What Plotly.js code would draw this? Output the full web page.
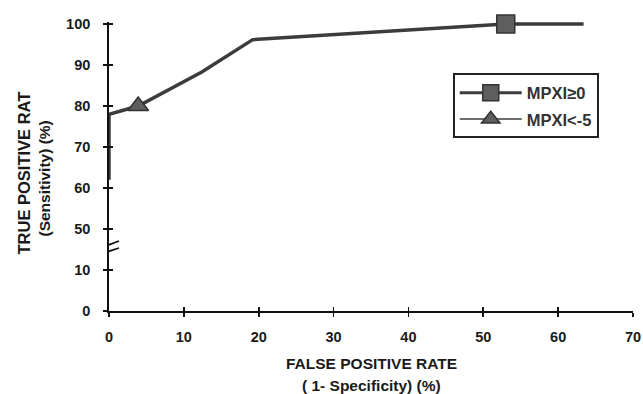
<!DOCTYPE html>
<html>
<head>
<meta charset="utf-8">
<script src="https://cdn.plot.ly/plotly-3.0.1.min.js"></script>
<style>html,body{margin:0;padding:0;background:#fff;}#chart{width:643px;height:394px;}</style>
</head>
<body>
<div id="chart"></div>
<script>
// ROC curve (x: false positive rate %, y: true positive rate %)
var curveX = [0, 0, 3.9, 12.4, 19.2, 53, 63.4];
var curveY = [62, 78, 80, 88.3, 96.2, 100, 100];
// labelled cut-off points
var squareX = [53];
var squareY = [100];
var triangleX = [3.9];
var triangleY = [80];
var seriesNames = ['MPXI\u22650', 'MPXI<-5'];
var xTicks = [0, 10, 20, 30, 40, 50, 60, 70];
var yTicks = [0, 10, 50, 60, 70, 80, 90, 100];

// broken y-axis: 10..50 gap collapsed to one 10-unit step
function brk(v) { return v <= 10 ? v : v - 30; }
var yTickPos = yTicks.map(brk);
var yTickText = yTicks.map(String);

var FONT = 'Liberation Sans, Arial, sans-serif';
var lineCol = '#3c3c3c';
var fillCol = '#5e5e5e';
var yRange = [0, 70.5];

var traces = [
  { x: [xTicks[0]], y: [yTickPos[0]], xaxis: 'x2', yaxis: 'y2', showlegend: false, hoverinfo: 'skip',
    mode: 'markers', marker: { opacity: 0, size: 1 } },
  { x: curveX, y: curveY.map(brk), mode: 'lines', showlegend: false, hoverinfo: 'skip', cliponaxis: false,
    line: { color: lineCol, width: 3.5 } },
  { x: squareX, y: squareY.map(brk), mode: 'lines+markers', name: seriesNames[0], legendgroup: 'a',
    cliponaxis: false,
    line: { color: lineCol, width: 3 },
    marker: { symbol: 'square', size: 18, color: fillCol, line: { color: '#333', width: 1.5 } } },
  { x: triangleX, y: triangleY.map(brk), mode: 'lines+markers', name: seriesNames[1], legendgroup: 'b',
    cliponaxis: false,
    line: { color: lineCol, width: 1.5 },
    marker: { symbol: 'triangle-up', size: 18, color: fillCol, line: { color: '#333', width: 1.5 } } }
];

var yBreak = 15.37;
var layout = {
  width: 643, height: 394,
  margin: { l: 109, r: 10, t: 22, b: 83 },
  paper_bgcolor: '#fff', plot_bgcolor: '#fff',
  font: { family: FONT, color: '#1a1a1a' },
  showlegend: true,
  legend: {
    x: 0.656, y: 0.822, xanchor: 'left', yanchor: 'top',
    bordercolor: '#222', borderwidth: 2, bgcolor: '#fff',
    font: { family: FONT, size: 16.5, color: '#333', weight: 'bold' },
    itemwidth: 62, traceorder: 'grouped', tracegroupgap: 2
  },
  xaxis: {
    range: [0, 70], tickmode: 'array', tickvals: xTicks, ticktext: xTicks.map(String),
    showgrid: false, zeroline: false, showline: true, linecolor: '#111', linewidth: 1.8,
    ticks: 'outside', ticklen: 4, tickwidth: 1.8, tickcolor: '#111',
    tickfont: { family: FONT, size: 14.5, color: '#1a1a1a', weight: 'bold' },
    ticklabelstandoff: 8, fixedrange: true
  },
  yaxis: {
    range: yRange, tickmode: 'array', tickvals: yTickPos, ticktext: yTickText,
    showgrid: false, zeroline: false, showline: true, linecolor: '#111', linewidth: 1.8,
    ticks: 'outside', ticklen: 4, tickwidth: 1.8, tickcolor: '#111',
    tickfont: { family: FONT, size: 14.5, color: '#1a1a1a', weight: 'bold' },
    ticklabelstandoff: 10, fixedrange: true
  },
  xaxis2: {
    overlaying: 'x', anchor: 'y2', side: 'bottom', range: [0, 70], tickmode: 'array', tickvals: xTicks,
    showticklabels: false, showgrid: false, zeroline: false, showline: false,
    ticks: 'inside', ticklen: 4, tickwidth: 1.8, tickcolor: '#111', fixedrange: true
  },
  yaxis2: {
    overlaying: 'y', anchor: 'x2', side: 'left', range: yRange, tickmode: 'array', tickvals: yTickPos,
    showticklabels: false, showgrid: false, zeroline: false, showline: false,
    ticks: 'inside', ticklen: 4, tickwidth: 1.8, tickcolor: '#111', fixedrange: true
  },
  shapes: [
    { type: 'line', xref: 'x', yref: 'y', xsizemode: 'pixel', ysizemode: 'pixel',
      xanchor: 0, yanchor: yBreak, x0: -9, x1: 10, y0: 0, y1: 7, line: { color: '#111', width: 1.8 } },
    { type: 'line', xref: 'x', yref: 'y', xsizemode: 'pixel', ysizemode: 'pixel',
      xanchor: 0, yanchor: yBreak, x0: -8, x1: 10, y0: -6, y1: 0, line: { color: '#111', width: 1.8 } }
  ],
  annotations: [
    { text: 'FALSE POSITIVE RATE', xref: 'paper', yref: 'paper', x: 0.5, y: 0, yshift: -52,
      xanchor: 'center', yanchor: 'middle', showarrow: false,
      font: { family: FONT, size: 15.5, color: '#1a1a1a', weight: 'bold' } },
    { text: '( 1- Specificity) (%)', xref: 'paper', yref: 'paper', x: 0.5, y: 0, yshift: -74,
      xanchor: 'center', yanchor: 'middle', showarrow: false,
      font: { family: FONT, size: 15.5, color: '#1a1a1a', weight: 'bold' } },
    { text: 'TRUE POSITIVE RAT', xref: 'paper', yref: 'paper', x: 0, y: 0.5, xshift: -86, yshift: -7,
      xanchor: 'center', yanchor: 'middle', textangle: -90, showarrow: false,
      font: { family: FONT, size: 16.5, color: '#1a1a1a', weight: 'bold' } },
    { text: '(Sensitivity) (%)', xref: 'paper', yref: 'paper', x: 0, y: 0.5, xshift: -65, yshift: -12,
      xanchor: 'center', yanchor: 'middle', textangle: -90, showarrow: false,
      font: { family: FONT, size: 15.5, color: '#1a1a1a', weight: 'bold' } }
  ]
};

Plotly.newPlot('chart', traces, layout, { displayModeBar: false, staticPlot: true });
</script>
</body>
</html>
